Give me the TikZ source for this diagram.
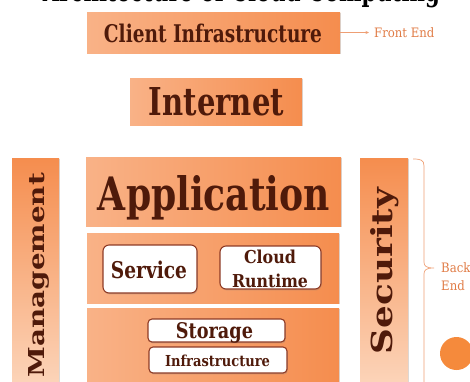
\documentclass[tikz,border=0pt]{standalone}
\usepackage{fontspec}
\setmainfont{DejaVu Serif}
\newfontfamily\smallserif[FakeStretch=0.9]{DejaVu Serif}
\usetikzlibrary{shadows,arrows.meta}
\definecolor{txtbrown}{HTML}{4F1A0A}
\definecolor{edgebrown}{HTML}{8E3B26}
\definecolor{orangeA}{HTML}{F58D4E}
\definecolor{peach}{HTML}{FCD6BC}
\definecolor{orangeL}{HTML}{F9B287}
\definecolor{labelorange}{HTML}{E07B45}
\definecolor{lineorange}{HTML}{EE9F74}
\definecolor{dotorange}{HTML}{F58A3C}
\newcommand{\fitbox}[3]{\resizebox{#1pt}{#2pt}{\bfseries #3}}
\begin{document}
\begin{tikzpicture}[x=1pt,y=-1pt,
  shadowed/.style={drop shadow={shadow xshift=0.8pt,shadow yshift=-1.4pt,opacity=0.3}},
  layer/.style={rectangle, inner sep=0pt, draw=none, shadowed,
    left color=orangeL, middle color=peach, right color=orangeA},
  pillar/.style={rectangle, inner sep=0pt, draw=none, shadowed,
    top color=orangeA, bottom color=peach},
  inbox/.style={rectangle, rounded corners=6pt, inner sep=0pt, fill=white,
    draw=edgebrown, line width=1.1pt, shadowed},
  heading/.style={inner sep=0pt, anchor=base, text=txtbrown},
  tag/.style={inner sep=0pt, anchor=base west, text=labelorange, font=\smallserif\fontsize{13pt}{15pt}\selectfont},
]
\useasboundingbox (0,0) rectangle (470,381);
\begin{scope}
\clip (0,0) rectangle (470,381);
% title (only its lower edge shows, as in the reference)
\node[inner sep=0pt, anchor=base] (title) at (241.5,1) {\fitbox{397}{22}{Architecture of Cloud Computing}};

% boxes
\node[layer, minimum width=253pt, minimum height=41pt] (client) at (213.5,32.5) {};
\node[layer, minimum width=172pt, minimum height=47pt] (inet) at (216,101.5) {};
\node[layer, minimum width=255pt, minimum height=69pt] (app) at (213.5,191.5) {};
\node[layer, minimum width=252pt, minimum height=70pt] (mid) at (213,268) {};
\node[layer, minimum width=252pt, minimum height=82pt] (bot) at (213,349) {};
\node[pillar, minimum width=47pt, minimum height=232pt] (mgmt) at (35.5,274) {};
\node[pillar, minimum width=48pt, minimum height=232pt] (sec) at (384,274) {};

\node[inbox, minimum width=94pt, minimum height=48pt] (service) at (150,269) {};
\node[inbox, minimum width=101pt, minimum height=43pt] (cloud) at (270.5,267.5) {};
\node[inbox, rounded corners=4pt, minimum width=137pt, minimum height=23pt] (storage) at (216.5,330.5) {};
\node[inbox, rounded corners=4pt, minimum width=138pt, minimum height=26pt] (infra) at (218,360) {};

% texts
\node[heading] (tclient) at (213,42) {\fitbox{218}{18.5}{Client Infrastructure}};
\node[heading] (tinet) at (216.5,115) {\fitbox{135}{28}{Internet}};
\node[heading] (tapp) at (214,210) {\fitbox{232}{35}{Application}};
\node[heading] (tservice) at (149,278) {\fitbox{76}{17.5}{Service}};
\node[heading] (tcloud) at (270,263) {\fitbox{52}{13.5}{Cloud}};
\node[heading] (truntime) at (270,287) {\fitbox{76}{13.5}{Runtime}};
\node[heading] (tstorage) at (214.5,338) {\fitbox{77}{16}{Storage}};
\node[heading] (tinfra) at (217.5,366) {\fitbox{105}{11.5}{Infrastructure}};
\node[heading, rotate=90] (tmgmt) at (44,275) {\fitbox{204}{16}{Management}};
\node[heading, rotate=90] (tsec) at (392,271) {\fitbox{166}{22}{Security}};

% front end label and arrow
\node[inner sep=0pt, anchor=west, text=labelorange, font=\smallserif\fontsize{13pt}{15pt}\selectfont] (fe) at (374,32.5) {Front End};
\draw[lineorange, line width=0.6pt, -{Stealth[length=3.5pt,width=3pt]}] (client.east) -- ([xshift=-5pt]fe.west);

% back end brace and label
\coordinate (bracetop) at (413,159);
\coordinate (bracetip) at (434,268);
\coordinate (bracebot) at (413,395);
\draw[lineorange, line width=0.7pt]
  (bracetop) .. controls (421,159) and (424,160) .. (424,166)
  -- (424,262) .. controls (424,266) and (426,268) .. (bracetip)
  (bracetip) .. controls (426,268) and (424,270) .. (424,274)
  -- (424,388) .. controls (424,393) and (421,395) .. (bracebot);
\node[tag] (back) at (441,272) {Back};
\node[tag] (end) at (441,290) {End};

% decorative dot
\fill[dotorange] (456.5,353.5) circle[radius=16.5];
\end{scope}
\end{tikzpicture}
\end{document}
